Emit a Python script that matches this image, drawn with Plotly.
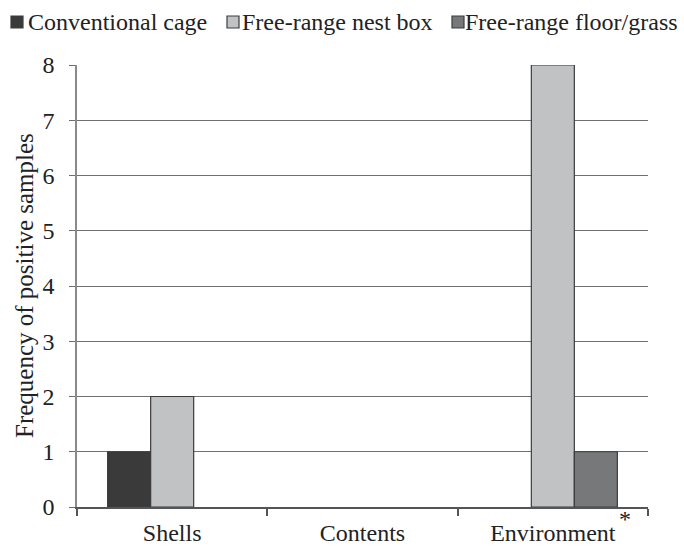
import plotly.graph_objects as go

categories = ["Shells", "Contents", "Environment"]
series_names = ["Conventional cage", "Free-range nest box", "Free-range floor/grass"]
conventional = [1, 0, 0]
nest_box = [2, 0, 8]
floor_grass = [0, 0, 1]
colors = ["#3a3a3b", "#c1c2c4", "#77787a"]

W, H = 684, 548
L, R, T, B = 77, 36, 65, 41
PW, PH = W - L - R, H - T - B

def px_x(px):
    return (px - L) / PW

def px_y(py):
    return (H - B - py) / PH

fig = go.Figure()
for name, vals, col in zip(series_names, [conventional, nest_box, floor_grass], colors):
    fig.add_trace(go.Bar(x=categories, y=[v if v else None for v in vals], name=name,
                         marker=dict(color=col, line=dict(color="#3c3c3c", width=1.2))))

fig.update_layout(
    width=W, height=H,
    margin=dict(l=L, r=R, t=T, b=B),
    paper_bgcolor="white", plot_bgcolor="white",
    barmode="group", bargap=0.322, bargroupgap=0,
    font=dict(family="Liberation Serif", size=24, color="#222222"),
    showlegend=False,
)
fig.update_xaxes(showline=True, linecolor="#555555", linewidth=1.5, automargin=False,
                 ticks="outside", tickson="boundaries", ticklen=7, tickcolor="#555555",
                 tickwidth=1.5, tickfont=dict(size=24), showgrid=False,
                 ticklabelstandoff=3)
fig.update_yaxes(range=[0, 8], dtick=1, showline=True, linecolor="#8a8a8a", linewidth=1.5,
                 automargin=False,
                 ticks="outside", ticklen=6, tickcolor="#6e6e6e", tickwidth=1.2,
                 showgrid=True, gridcolor="#707070", gridwidth=1.2,
                 tickfont=dict(size=24), zeroline=False, ticklabelstandoff=10)
# y-axis title
fig.add_annotation(text="Frequency of positive samples", x=px_x(24), xref="paper",
                   y=0.5, yref="paper", textangle=-90, showarrow=False,
                   xanchor="center", yanchor="middle", font=dict(size=25))
# asterisk
fig.add_annotation(text="*", x=1, xref="paper", y=0, yref="y", xanchor="center", yanchor="top",
                   xshift=-23, yshift=3, showarrow=False, font=dict(size=24))

# legend (drawn manually to match the compact layout)
legend_sq_x = [11, 227, 452]
legend_txt_x = [26, 240, 463]
for name, col, sx, tx in zip(series_names, colors, legend_sq_x, legend_txt_x):
    fig.add_shape(type="rect", xref="paper", yref="paper",
                  x0=px_x(sx), x1=px_x(sx + 12), y0=px_y(28), y1=px_y(16),
                  fillcolor=col, line=dict(color="#3c3c3c", width=1.2))
    fig.add_annotation(text=name, x=px_x(tx), xref="paper", y=px_y(22), yref="paper",
                       xanchor="left", yanchor="middle", showarrow=False,
                       font=dict(size=24))
fig.write_html("out.html", config={"displayModeBar": False},
               post_script="document.body.style.margin='0';")
